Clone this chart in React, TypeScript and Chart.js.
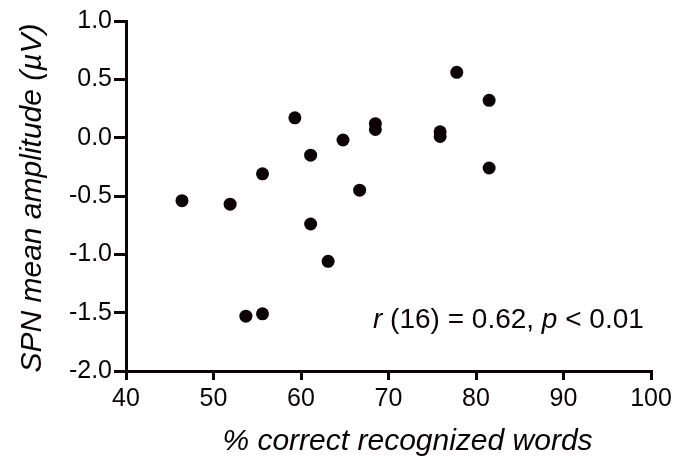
import React, { useEffect, useRef } from "react";
import { Chart, registerables } from "chart.js";

Chart.register(...registerables);

const recognizedPct = [46.4, 51.9, 53.7, 55.6, 55.6, 59.3, 61.1, 61.1, 63.1, 64.8, 66.7, 68.5, 68.5, 75.9, 75.9, 77.8, 81.5, 81.5];
const spnAmplitude = [-0.54, -0.57, -1.53, -0.31, -1.51, 0.17, -0.15, -0.74, -1.06, -0.02, -0.45, 0.12, 0.07, 0.05, 0.01, 0.56, 0.32, -0.26];

const xTitle = "% correct recognized words";
const yTitle = "SPN mean amplitude (\u00B5V)";
const statParts: [string, boolean][] = [
  ["r", true],
  [" (16) = 0.62, ", false],
  ["p", true],
  [" < 0.01", false],
];

const FONT = "'Liberation Sans', Arial, Helvetica, sans-serif";
const INK = "#0b0305";

const textPlugin = {
  id: "textPlugin",
  afterDraw(chart: any) {
    const ctx = chart.ctx as CanvasRenderingContext2D;
    const area = chart.chartArea;
    ctx.save();
    ctx.fillStyle = INK;
    // x title
    ctx.font = `italic 30px ${FONT}`;
    ctx.textAlign = "center";
    ctx.textBaseline = "alphabetic";
    ctx.fillText(xTitle, area.left + 281.5, 450);
    // y title
    ctx.save();
    ctx.translate(41, 198);
    ctx.rotate(-Math.PI / 2);
    ctx.fillText(yTitle, 0, 0);
    ctx.restore();
    // stat annotation
    ctx.textAlign = "left";
    let x = 373;
    for (const [t, it] of statParts) {
      ctx.font = `${it ? "italic " : ""}28px ${FONT}`;
      ctx.fillText(t, x, 328);
      x += ctx.measureText(t).width;
    }
    ctx.restore();
  },
};

export default function App() {
  const ref = useRef<HTMLCanvasElement>(null);
  useEffect(() => {
    if (!ref.current) return;
    Chart.defaults.font.family = FONT;
    const data = recognizedPct.map((x, i) => ({ x, y: spnAmplitude[i] }));
    const gridOpts: any = {
      drawOnChartArea: false,
      drawTicks: true,
      lineWidth: 3,
      color: INK,
      tickWidth: 3,
      tickColor: INK,
    };
    const chart = new Chart(ref.current, {
      type: "scatter",
      data: {
        datasets: [
          {
            data,
            backgroundColor: INK,
            borderColor: INK,
            borderWidth: 0,
            pointRadius: 6.5,
            clip: false as any,
          },
        ],
      },
      options: {
        animation: false,
        responsive: true,
        maintainAspectRatio: false,
        layout: { padding: { left: 0, top: 21, right: 37, bottom: 0 } },
        plugins: { legend: { display: false }, tooltip: { enabled: false } },
        scales: {
          x: {
            type: "linear",
            min: 40,
            max: 100,
            afterFit: (s: any) => {
              s.height = 89;
            },
            border: { display: true, color: INK, width: 3 },
            grid: { ...gridOpts, tickLength: 9 },
            ticks: { stepSize: 10, color: INK, font: { size: 25, family: FONT }, padding: 4 },
          },
          y: {
            type: "linear",
            min: -2,
            max: 1,
            afterFit: (s: any) => {
              s.width = 126;
            },
            border: { display: true, color: INK, width: 3 },
            grid: { ...gridOpts, tickLength: 12 },
            ticks: {
              stepSize: 0.5,
              color: INK,
              font: { size: 25, family: FONT },
              padding: 2,
              callback: (v: any) => Number(v).toFixed(1),
            },
          },
        },
      },
      plugins: [textPlugin],
    });
    return () => chart.destroy();
  }, []);
  return (
    <div style={{ position: "absolute", left: 0, top: 0, width: 688, height: 460, background: "#fff" }}>
      <canvas ref={ref} />
    </div>
  );
}
